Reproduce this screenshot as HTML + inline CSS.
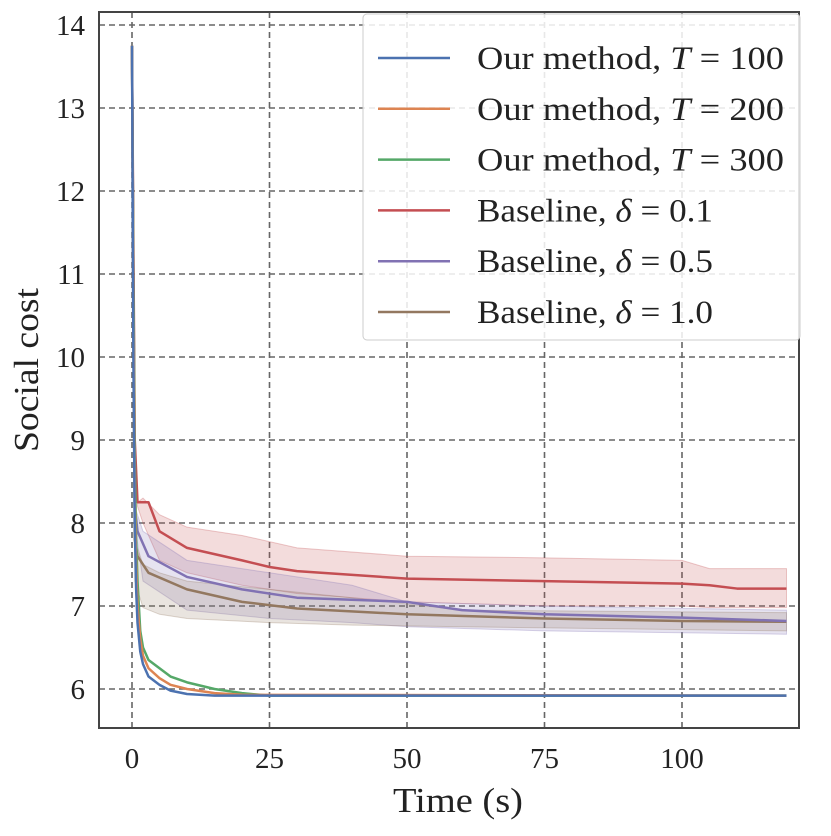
<!DOCTYPE html>
<html><head><meta charset="utf-8"><style>
body{margin:0;background:#fff}
svg text{font-family:"Liberation Serif",serif;fill:#222}
</style></head><body>
<svg width="831" height="831" xmlns="http://www.w3.org/2000/svg">
<g id="grid"></g>
<g id="bands"></g>
<g id="lines"></g>
<rect x="99" y="12" width="700" height="716" fill="none" stroke="#444" stroke-width="2"/>
<g id="ticks"></g>
<text x="393" y="812" font-size="35" textLength="130" lengthAdjust="spacingAndGlyphs">Time (s)</text>
<text transform="translate(38,452) rotate(-90)" font-size="35" textLength="164" lengthAdjust="spacingAndGlyphs">Social cost</text>
<g>
<rect x="363" y="14" width="437" height="326" rx="4" fill="#fff" fill-opacity="0.85" stroke="#ccc"/>
<g id="legend-items"></g>
</g>
</svg>
<script>
const xTicks=[0,25,50,75,100];
const yTicks=[6,7,8,9,10,11,12,13,14];
const names=['Our method, <tspan font-style="italic">T</tspan> = 100','Our method, <tspan font-style="italic">T</tspan> = 200','Our method, <tspan font-style="italic">T</tspan> = 300','Baseline, <tspan font-style="italic">δ</tspan> = 0.1','Baseline, <tspan font-style="italic">δ</tspan> = 0.5','Baseline, <tspan font-style="italic">δ</tspan> = 1.0'];
const colors=['#4c72b0','#dd8452','#55a868','#c44e52','#8172b3','#937860'];
const tBlue=[0,0.25,0.5,0.75,1,1.5,2,3,5,7,10,15,119];
const vBlue=[13.75,10,8.0,7.2,6.8,6.45,6.3,6.15,6.05,5.98,5.94,5.92,5.92];
const tOrange=[0,0.25,0.5,0.75,1,1.5,2,3,5,7,10,15,20,119];
const vOrange=[13.75,10.5,8.3,7.5,7.0,6.6,6.4,6.25,6.13,6.05,6.0,5.95,5.93,5.92];
const tGreen=[0,0.25,0.5,0.75,1,1.5,2,3,5,7,10,15,20,25,119];
const vGreen=[13.75,11,8.8,7.8,7.3,6.7,6.5,6.35,6.25,6.15,6.08,6.0,5.95,5.92,5.92];
const tRed=[0,0.5,1,3,5,10,20,25,30,50,75,100,105,110,119];
const vRed=[13.75,9.0,8.25,8.25,7.9,7.7,7.55,7.47,7.42,7.33,7.3,7.27,7.25,7.21,7.21];
const tRedBand=[1,2,5,10,20,30,50,75,100,105,119];
const hiRed=[8.25,8.3,8.1,7.95,7.85,7.7,7.6,7.58,7.55,7.45,7.45];
const loRed=[8.2,8.0,7.55,7.4,7.25,7.15,7.05,7.0,7.0,6.98,6.98];
const tPurple=[0,0.5,1,3,10,20,30,50,60,75,100,119];
const vPurple=[13.75,8.2,7.9,7.6,7.35,7.2,7.1,7.05,6.95,6.9,6.86,6.82];
const tPurpleBand=[0.5,2,10,25,40,50,75,119];
const hiPurple=[8.2,7.9,7.55,7.4,7.25,7.05,7.0,6.95];
const loPurple=[8.0,7.3,6.95,6.85,6.8,6.75,6.7,6.66];
const tBrown=[0,0.5,1,3,10,20,30,50,75,100,119];
const vBrown=[13.75,7.8,7.6,7.4,7.2,7.05,6.97,6.9,6.85,6.82,6.81];
const tBrownBand=[0.5,2,5,10,25,40,60,119];
const hiBrown=[7.8,7.5,7.4,7.3,7.2,7.1,6.95,6.92];
const loBrown=[7.3,6.98,6.9,6.85,6.8,6.77,6.75,6.7];

const X=t=>132+t*5.5, Y=v=>689-(v-6)*83;
const NS='http://www.w3.org/2000/svg';
function mk(tag,attrs,parent){const e=document.createElementNS(NS,tag);for(const k in attrs)e.setAttribute(k,attrs[k]);parent.appendChild(e);return e;}
const grid=document.getElementById('grid'),ticks=document.getElementById('ticks');
xTicks.forEach(t=>{
 const l=mk('line',{x1:X(t),x2:X(t),y1:12,y2:728,stroke:'#666','stroke-width':1.6,'stroke-dasharray':'6,4'},grid);
 
 
 const tk=mk('text',{x:X(t),y:768,'font-size':29,'text-anchor':'middle'},ticks);tk.textContent=t;
 
 
});
yTicks.forEach(v=>{
 const l=mk('line',{x1:99,x2:799,y1:Y(v),y2:Y(v),stroke:'#666','stroke-width':1.6,'stroke-dasharray':'6,4'},grid);
 
 
 const tk=mk('text',{x:85,y:Y(v)+10,'font-size':29,'text-anchor':'end'},ticks);tk.textContent=v;
 
 
});
const bands=document.getElementById('bands'),lines=document.getElementById('lines');
function band(ts,hi,lo,c,name){
 let d='M'+ts.map((t,i)=>X(t)+','+Y(hi[i])).join('L');
 d+='L'+ts.map((t,i)=>X(t)+','+Y(lo[i])).reverse().join('L')+'Z';
 const p=mk('path',{d:d,fill:c,'fill-opacity':0.2,stroke:c,'stroke-opacity':0.3},bands);
 
 
}
band(tRedBand,hiRed,loRed,colors[3],'band-delta-0.1');
band(tPurpleBand,hiPurple,loPurple,colors[4],'band-delta-0.5');
band(tBrownBand,hiBrown,loBrown,colors[5],'band-delta-1.0');
function line(ts,vs,c,name){
 const p=mk('path',{d:'M'+ts.map((t,i)=>X(t)+','+Y(vs[i])).join('L'),fill:'none',stroke:c,'stroke-width':2.5,'stroke-linejoin':'round'},lines);
 
 
}
line(tBrown,vBrown,colors[5],'line-delta-1.0');
line(tPurple,vPurple,colors[4],'line-delta-0.5');
line(tRed,vRed,colors[3],'line-delta-0.1');
line(tGreen,vGreen,colors[2],'line-T300');
line(tOrange,vOrange,colors[1],'line-T200');
line(tBlue,vBlue,colors[0],'line-T100');
const li=document.getElementById('legend-items');
const widths=[307,307,307,236,236,236];
names.forEach((n,i)=>{
 const y=58+i*50.8;
 const l=mk('line',{x1:378,x2:450,y1:y,y2:y,stroke:colors[i],'stroke-width':2.5},li);
 
 
 const t=mk('text',{x:477,y:y+11,'font-size':33,textLength:widths[i],lengthAdjust:'spacingAndGlyphs'},li);t.innerHTML=n;
 
 
});
</script>
</body></html>
